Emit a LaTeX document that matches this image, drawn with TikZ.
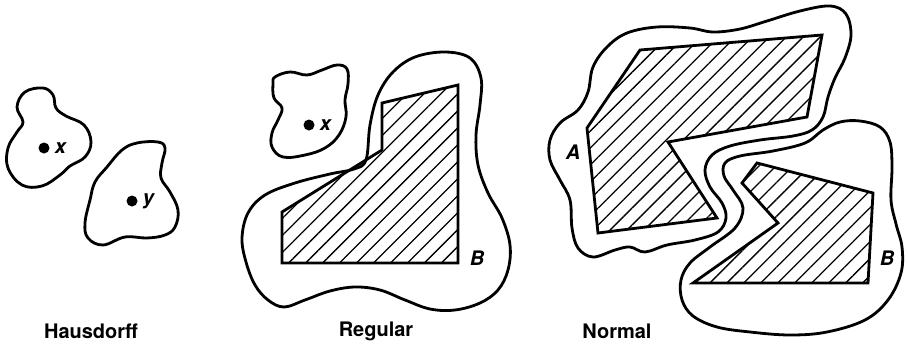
\documentclass[tikz,border=0pt]{standalone}
\usepackage{fontspec}
\setmainfont{TeX Gyre Heros}
\usepackage{tikz}
\usetikzlibrary{patterns.meta}

\begin{document}
\begin{tikzpicture}[
    x=1pt, y=-1pt,
    nbhd/.style={line width=2.8pt, line join=round},
    closedset/.style={
      line width=2.8pt, line join=miter,
      pattern={Lines[angle=45, distance=12pt, line width=1.3pt]}
    },
    caption/.style={font=\fontsize{20}{22}\selectfont\bfseries},
    setname/.style={font=\fontsize{20}{22}\selectfont\bfseries\itshape,
      inner sep=0pt},
    pt/.style={circle, fill, inner sep=0pt, minimum size=11pt}
  ]
  \useasboundingbox (0,0) rectangle (908,348);

  % Hausdorff
  \draw[nbhd] plot[smooth cycle, tension=0.65] coordinates {
    (17,107) (25,92) (43,88) (53,95) (56,108) (66,116) (84,125) (91,142)
    (85,157) (70,166) (60,175) (42,186) (22,185) (8,168) (8,148) (17,132)
    (23,122)};
  \draw[nbhd] plot[smooth cycle, tension=0.65] coordinates {
    (107,167) (122,150) (137,143) (158,142) (165,148) (162,163) (161,178)
    (170,192) (178,210) (175,227) (165,235) (147,238) (125,237) (103,245)
    (88,238) (85,223) (90,200) (95,182)};
  \node[pt] (hx) at (44,148) {};
  \node[setname, right=5pt] (hxl) at (hx.east) {x};
  \node[pt] (hy) at (132,201) {};
  \node[setname, right=5pt] (hyl) at (hy.east) {y};

  % Regular
  \draw[nbhd] plot[smooth cycle, tension=0.65] coordinates {
    (275,77) (290,72) (307,75) (322,70) (337,65) (347,69) (348,84)
    (345,100) (346,117) (339,135) (325,148) (305,155) (283,157) (272,147)
    (272,133) (278,120) (282,108) (274,98) (273,84)};
  \node[pt] (rx) at (309,125) {};
  \node[setname, right=5pt] (rxl) at (rx.east) {x};
  \draw[nbhd] plot[smooth cycle, tension=0.6] coordinates {
    (366,160) (370,125) (378,95) (393,72) (415,57) (445,52) (470,58)
    (481,78) (480,105) (476,135) (478,165) (488,193) (502,218) (510,245)
    (508,270) (498,290) (480,303) (455,310) (430,309) (405,300) (380,290)
    (355,287) (330,291) (305,300) (284,307) (268,300) (255,285) (246,262)
    (242,238) (248,213) (265,195) (295,183) (330,174) (354,169)};
  \draw[closedset] (282,212) -- (282,263) -- (458,263) -- (458,85)
    -- (382,103) -- (382,150) -- cycle;
  \node[setname] (rb) at (477,258) {B};

  % Normal
  \draw[nbhd] plot[smooth cycle, tension=0.6] coordinates {
    (550,140) (560,123) (578,110) (588,92) (593,67) (607,47) (627,33)
    (657,27) (690,28) (713,32) (740,29) (767,21) (800,11) (830,6) (846,14)
    (851,35) (845,58) (835,78) (828,97) (823,117) (812,130) (793,136)
    (760,140) (730,146) (712,155) (705,170) (710,187) (722,203) (726,218)
    (718,232) (695,240) (667,245) (645,252) (630,247) (615,250) (593,257)
    (578,248) (572,228) (570,200) (560,180) (550,160)};
  \draw[nbhd] plot[smooth cycle, tension=0.6] coordinates {
    (725,163) (740,156) (773,151) (805,143) (823,130) (840,122) (860,121)
    (880,127) (890,142) (892,167) (891,200) (896,224) (902,247) (901,273)
    (888,300) (865,320) (827,332) (790,335) (750,332) (717,327) (693,316)
    (682,300) (681,280) (690,263) (710,247) (735,228) (743,208) (733,190)
    (724,176)};
  \draw[closedset] (640,50) -- (822,35) -- (807,117) -- (668,142)
    -- (717,218) -- (598,233) -- (587,128) -- cycle;
  \draw[closedset] (757,163) -- (873,193) -- (868,283) -- (693,283)
    -- (778,223) -- (742,183) -- cycle;
  \node[setname] (na) at (573,152) {A};
  \node[setname] (nb) at (887,258) {B};

  % captions
  \node[caption] (haus) at (91,331) {Hausdorff};
  \node[caption] (reg) at (376,331) {Regular};
  \node[caption] (norm) at (617,331) {Normal};
\end{tikzpicture}
\end{document}
